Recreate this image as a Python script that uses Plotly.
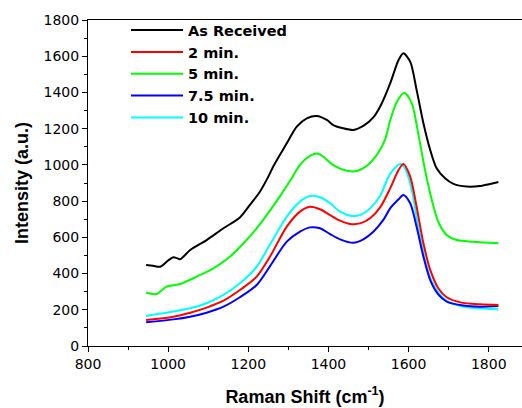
import plotly.graph_objects as go

# Raman shift positions (cm^-1) and intensities
x_black = [945, 962, 980, 1000, 1013, 1022, 1030, 1055, 1096, 1138, 1179, 1204, 1229, 1250, 1262, 1296,
           1321, 1346, 1371, 1396, 1412, 1437, 1462, 1487, 1512, 1532, 1554, 1575, 1587, 1604, 1620,
           1637, 1654, 1670, 1691, 1712, 1745, 1778, 1803, 1824]
y_black = [447, 443, 438, 472, 490, 485, 479, 530, 585, 650, 710, 779, 852, 935, 990, 1119,
           1211, 1257, 1270, 1248, 1220, 1202, 1193, 1215, 1262, 1335, 1450, 1579, 1616, 1570, 1414,
           1230, 1082, 981, 926, 895, 880, 883, 895, 906]

x_green = [945, 971, 996, 1030, 1071, 1113, 1154, 1188, 1221, 1250, 1280, 1305, 1329, 1354, 1375,
           1391, 1412, 1446, 1471, 1496, 1521, 1541, 1554, 1570, 1589, 1608, 1624, 1641, 1658, 1674,
           1695, 1720, 1762, 1824]
y_green = [294, 287, 328, 342, 383, 429, 493, 567, 650, 735, 830, 915, 1000, 1050, 1062,
           1038, 999, 968, 966, 995, 1055, 1138, 1245, 1345, 1399, 1340, 1174, 972, 806, 686,
           613, 585, 576, 567]

x_cyan = [945, 1013, 1055, 1096, 1138, 1179, 1221, 1254, 1296, 1329, 1354, 1379, 1404, 1429, 1458,
          1479, 1504, 1529, 1554, 1579, 1591, 1608, 1624, 1641, 1658, 1679, 1703, 1737, 1778, 1824]
y_cyan = [166, 190, 208, 236, 282, 346, 438, 560, 714, 797, 828, 821, 788, 742, 718,
          723, 760, 830, 950, 1005, 981, 861, 659, 475, 355, 282, 239, 217, 208, 203]

x_red = [945, 1013, 1055, 1096, 1138, 1179, 1221, 1254, 1296, 1329, 1354, 1379, 1404, 1429,
         1454, 1479, 1504, 1529, 1554, 1575, 1587, 1604, 1620, 1637, 1654, 1674, 1695, 1729, 1778, 1824]
y_red = [144, 162, 184, 212, 250, 309, 383, 493, 659, 742, 769, 755, 723, 692,
         674, 677, 705, 765, 870, 972, 1005, 935, 769, 567, 420, 319, 269, 241, 230, 226]

x_blue = [945, 1013, 1055, 1096, 1138, 1179, 1221, 1254, 1296, 1329, 1354, 1379, 1404, 1429,
          1462, 1487, 1512, 1537, 1554, 1575, 1587, 1604, 1620, 1637, 1654, 1674, 1695, 1737, 1778, 1824]
y_blue = [131, 147, 162, 184, 217, 269, 337, 440, 576, 631, 655, 650, 618, 589,
          570, 589, 631, 696, 760, 810, 834, 788, 659, 493, 364, 285, 245, 223, 217, 221]

series_names = ["As Received", "2 min.", "5 min.", "7.5 min.", "10 min."]
series_x = [x_black, x_red, x_green, x_blue, x_cyan]
series_y = [y_black, y_red, y_green, y_blue, y_cyan]
series_colors = ["#000000", "#FF0000", "#00FF00", "#0000FF", "#00FFFF"]

x_tickvals = [800, 1000, 1200, 1400, 1600, 1800]
y_tickvals = [0, 200, 400, 600, 800, 1000, 1200, 1400, 1600, 1800]

fig = go.Figure()
draw_order = [0, 2, 4, 3, 1]
for i in draw_order:
    fig.add_trace(go.Scatter(
        x=series_x[i], y=series_y[i], mode="lines", name=series_names[i],
        line=dict(color=series_colors[i], width=2, shape="spline", smoothing=0.8),
        legendrank=i + 1,
    ))

title_font = "Liberation Sans, Arial, sans-serif"
tick_font = "DejaVu Sans, sans-serif"
fig.update_layout(
    width=522, height=408,
    margin=dict(l=88, r=0, t=20, b=62),
    paper_bgcolor="white", plot_bgcolor="white",
    font=dict(family=tick_font, color="black", size=14),
    showlegend=True,
    legend=dict(
        x=(126 - 88) / 434, y=1.018, xanchor="left", yanchor="top",
        bgcolor="rgba(0,0,0,0)", borderwidth=0,
        font=dict(family=tick_font, size=14.5, color="black", weight="bold"),
        itemwidth=52, tracegroupgap=0,
    ),
    xaxis=dict(
        range=[800, 1883], tickvals=x_tickvals, ticks="outside", ticklen=5, tickwidth=1,
        tickcolor="black", showline=True, linecolor="black", linewidth=1, mirror=True,
        showgrid=False, zeroline=False, automargin=False,
        minor=dict(dtick=100, ticks="outside", ticklen=3, tickcolor="black", showgrid=False),
        title=dict(text="Raman Shift (cm<sup>-1</sup>)", standoff=19,
                   font=dict(family=title_font, size=18, color="black", weight="bold")),
        tickfont=dict(family=tick_font, size=14, color="black"),
    ),
    yaxis=dict(
        range=[0, 1800], tickvals=y_tickvals, ticks="outside", ticklen=5, tickwidth=1,
        tickcolor="black", showline=True, linecolor="black", linewidth=1, mirror=False,
        showgrid=False, zeroline=False, automargin=False,
        minor=dict(dtick=100, ticks="outside", ticklen=3, tickcolor="black", showgrid=False),
        title=dict(text="Intensity (a.u.)", standoff=10,
                   font=dict(family=title_font, size=18, color="black", weight="bold")),
        tickfont=dict(family=tick_font, size=14, color="black"),
    ),
)

fig.write_html(
    "out.html",
    config={"displayModeBar": False, "staticPlot": True},
    post_script="document.body.style.margin='0';document.body.style.overflow='hidden';",
)
